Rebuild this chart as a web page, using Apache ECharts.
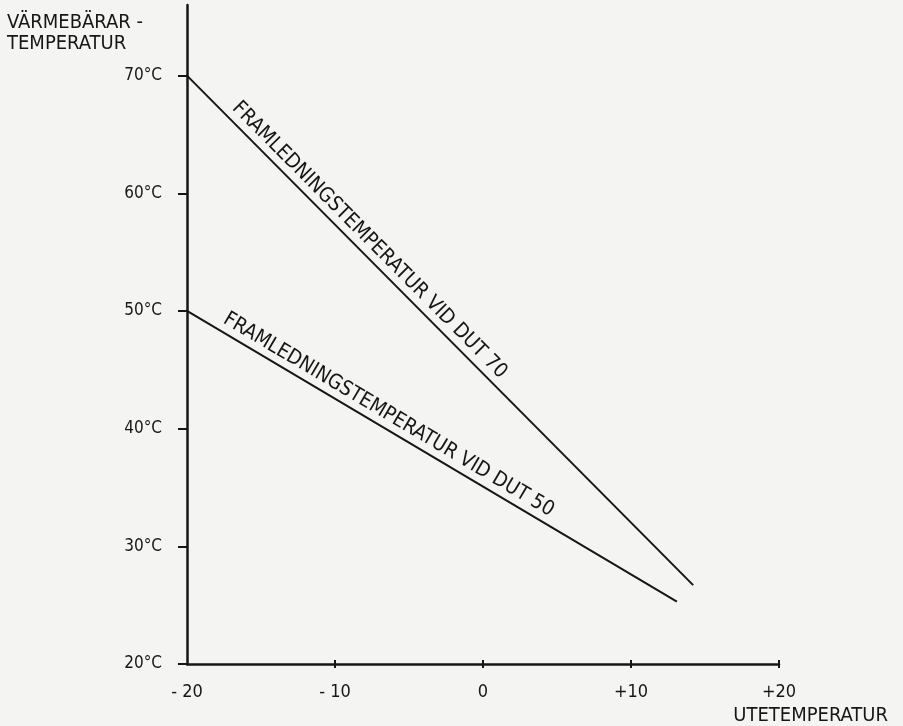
<!DOCTYPE html>
<html>
<head>
<meta charset="utf-8">
<script src="https://cdn.jsdelivr.net/npm/echarts@6/dist/echarts.min.js"></script>
<style>
html,body{margin:0;padding:0;background:#f4f4f2;}
#c{width:903px;height:726px;}
</style>
</head>
<body>
<div id="c"></div>
<script>
// ---- data ----
var xTicks = [-20, -10, 0, 10, 20];
var xTickLabels = ['- 20', '- 10', '0', '+10', '+20'];
var yTicks = [20, 30, 40, 50, 60, 70];
var yTickLabels = ['20°C', '30°C', '40°C', '50°C', '60°C', '70°C'];
var dut70X = [-20, 14.2];
var dut70Y = [70, 26.7];
var dut50X = [-20, 13.1];
var dut50Y = [50, 25.3];
var dut70Label = 'FRAMLEDNINGSTEMPERATUR VID DUT 70';
var dut50Label = 'FRAMLEDNINGSTEMPERATUR VID DUT 50';
var yTitle = 'VÄRMEBÄRAR -\nTEMPERATUR';
var xTitle = 'UTETEMPERATUR';

var FONT = '"DejaVu Sans Condensed", "Liberation Sans Narrow", "DejaVu Sans", sans-serif';
var INK = '#161616';

function pairs(xs, ys) { return xs.map(function (x, i) { return [x, ys[i]]; }); }
function labelFor(ticks, labels) {
  return function (v) { var i = ticks.indexOf(v); return i >= 0 ? labels[i] : ''; };
}

var chart = echarts.init(document.getElementById('c'), null, { renderer: 'canvas' });

function lineSeries(xs, ys, text, dist) {
  var d = pairs(xs, ys);
  return {
    type: 'line',
    data: d,
    showSymbol: false,
    symbol: 'none',
    silent: true,
    lineStyle: { color: INK, width: 2 },
    markLine: {
      silent: true,
      symbol: ['none', 'none'],
      lineStyle: { color: 'rgba(0,0,0,0)', width: 0, type: 'solid' },
      label: {
        show: true,
        position: 'insideStartTop',
        formatter: text,
        distance: dist,
        color: INK,
        opacity: 1,
        fontFamily: FONT,
        fontSize: 20.5
      },
      data: [[{ coord: d[0] }, { coord: d[d.length - 1] }]]
    }
  };
}

chart.setOption({
  backgroundColor: '#f4f4f2',
  animation: false,
  title: {
    text: yTitle,
    left: 7,
    top: 12,
    padding: 0,
    textStyle: { fontFamily: FONT, fontSize: 20, fontWeight: 'normal', color: INK, lineHeight: 21 }
  },
  grid: { left: 187, right: 124, top: 5, bottom: 61, containLabel: false },
  xAxis: [{
    type: 'value',
    position: 'bottom',
    min: -20, max: 20, interval: 10,
    splitLine: { show: false },
    axisLine: { show: true, onZero: false, lineStyle: { color: INK, width: 2.5 } },
    axisTick: { show: true, inside: false, length: 4, customValues: xTicks.slice(1), lineStyle: { color: INK, width: 2 } },
    axisLabel: { show: true, margin: 19, customValues: xTicks, formatter: labelFor(xTicks, xTickLabels), fontFamily: FONT, fontSize: 18, color: INK },
    name: xTitle,
    nameLocation: 'end',
    nameGap: 109,
    nameTextStyle: { fontFamily: FONT, fontSize: 20, color: INK, align: 'right', verticalAlign: 'top', padding: [42, 0, 0, 0] }
  }, {
    type: 'value',
    position: 'bottom',
    offset: 0,
    min: -20, max: 20, interval: 10,
    splitLine: { show: false },
    axisLine: { show: false, onZero: false },
    axisTick: { show: true, inside: true, length: 4, customValues: xTicks.slice(1), lineStyle: { color: INK, width: 2 } },
    axisLabel: { show: false }
  }],
  yAxis: {
    type: 'value',
    min: 20, max: 76, interval: 10,
    splitLine: { show: false },
    axisLine: { show: true, onZero: false, lineStyle: { color: INK, width: 2.5 } },
    axisTick: { show: true, inside: false, length: 9, customValues: yTicks, lineStyle: { color: INK, width: 2 } },
    axisLabel: { show: true, margin: 25, customValues: yTicks, formatter: labelFor(yTicks, yTickLabels), fontFamily: FONT, fontSize: 17, color: INK }
  },
  series: [
    lineSeries(dut70X, dut70Y, dut70Label, [55, 3]),
    lineSeries(dut50X, dut50Y, dut50Label, [36, 3])
  ]
});
</script>
</body>
</html>
